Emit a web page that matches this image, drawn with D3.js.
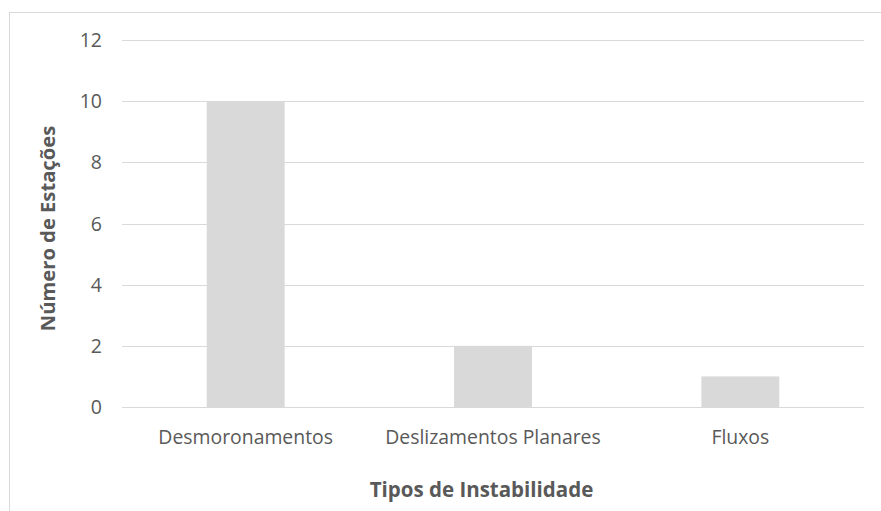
<!DOCTYPE html>
<html><head><meta charset="utf-8">
<script src="https://cdn.jsdelivr.net/npm/d3@7"></script>
<style>body{margin:0;background:#fff}svg{display:block}</style>
</head><body>
<script>
const categories = ["Desmoronamentos", "Deslizamentos Planares", "Fluxos"];
const values = [10, 2, 1];
const yTicks = [0, 2, 4, 6, 8, 10, 12];
const xTitle = "Tipos de Instabilidade";
const yTitle = "Número de Estações";

const W = 881, H = 511;
const m = {left: 122, right: 17, top: 40, bottom: 104};
const font = "'Open Sans', sans-serif";
const svg = d3.select("body").append("svg").attr("width", W).attr("height", H);

svg.append("rect").attr("x", 9.5).attr("y", 12.5).attr("width", W).attr("height", H)
  .attr("fill", "#fff").attr("stroke", "#d9d9d9");

const x = d3.scaleBand().domain(categories).range([m.left, W - m.right]).padding(0);
const y = d3.scaleLinear().domain([0, 12]).range([H - m.bottom, m.top]);

const g = svg.append("g");
g.selectAll("line.grid").data(yTicks).join("line")
  .attr("x1", m.left).attr("x2", W - m.right)
  .attr("y1", d => Math.round(y(d)) + 0.5).attr("y2", d => Math.round(y(d)) + 0.5)
  .attr("stroke", "#d9d9d9").attr("stroke-width", 1);

const bw = x.bandwidth() * 0.315;
g.selectAll("rect.bar").data(values).join("rect")
  .attr("x", (d, i) => x(categories[i]) + x.bandwidth() / 2 - bw / 2)
  .attr("width", bw)
  .attr("y", d => y(d)).attr("height", d => y(0) - y(d))
  .attr("fill", "#d9d9d9");

g.append("line").attr("x1", m.left).attr("x2", W - m.right)
  .attr("y1", Math.round(y(0)) + 0.5).attr("y2", Math.round(y(0)) + 0.5)
  .attr("stroke", "#d9d9d9");

g.selectAll("text.yt").data(yTicks).join("text")
  .attr("x", 102).attr("y", d => y(d)).attr("dy", "0.36em")
  .attr("text-anchor", "end").attr("font-family", font).attr("font-size", 19.5)
  .attr("fill", "#595959").text(d => d);

g.selectAll("text.xt").data(categories).join("text")
  .attr("x", d => x(d) + x.bandwidth() / 2).attr("y", 444)
  .attr("text-anchor", "middle").attr("font-family", font).attr("font-size", 19.4)
  .attr("fill", "#595959").text(d => d);

svg.append("text").attr("x", 481.5).attr("y", 497)
  .attr("text-anchor", "middle").attr("font-family", font).attr("font-size", 20.5)
  .attr("font-weight", "bold").attr("fill", "#595959").text(xTitle);

svg.append("text").attr("transform", `translate(55,228.5) rotate(-90)`)
  .attr("text-anchor", "middle").attr("font-family", font).attr("font-size", 20.2)
  .attr("font-weight", "bold").attr("fill", "#595959").text(yTitle);
</script>
</body></html>
